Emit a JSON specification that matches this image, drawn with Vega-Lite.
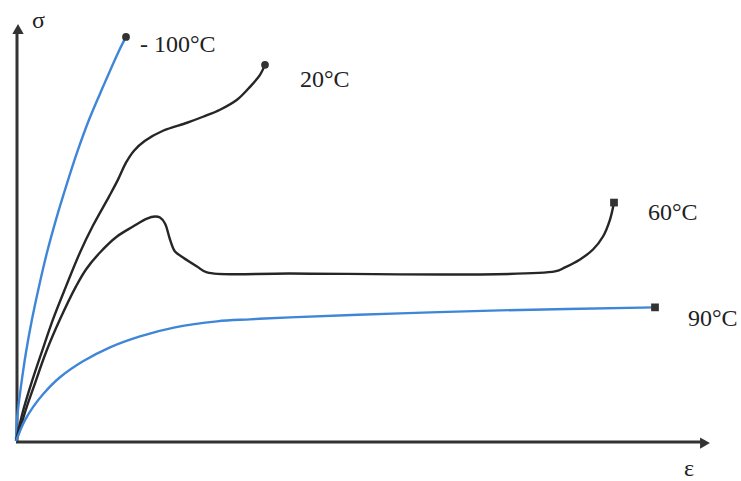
{
  "$schema": "https://vega.github.io/schema/vega-lite/v6.json",
  "width": 741,
  "height": 481,
  "padding": 0,
  "autosize": {"type": "fit", "contains": "padding"},
  "background": "white",
  "config": {"view": {"stroke": null}},
  "resolve": {"scale": {"shape": "independent"}},
  "datasets": {
    "curves": [
      {"series": "-100", "x": 0, "y": 0}, {"series": "-100", "x": 1, "y": 22}, {"series": "-100", "x": 5, "y": 55}, {"series": "-100", "x": 10, "y": 89}, {"series": "-100", "x": 16, "y": 122}, {"series": "-100", "x": 23, "y": 155}, {"series": "-100", "x": 31, "y": 189}, {"series": "-100", "x": 40, "y": 222}, {"series": "-100", "x": 50, "y": 255}, {"series": "-100", "x": 61, "y": 289}, {"series": "-100", "x": 73, "y": 322}, {"series": "-100", "x": 87, "y": 355}, {"series": "-100", "x": 102, "y": 389}, {"series": "-100", "x": 110, "y": 405},
      {"series": "20", "x": 0, "y": 0}, {"series": "20", "x": 7, "y": 30}, {"series": "20", "x": 16, "y": 60}, {"series": "20", "x": 26, "y": 90}, {"series": "20", "x": 37, "y": 122}, {"series": "20", "x": 50, "y": 155}, {"series": "20", "x": 64, "y": 189}, {"series": "20", "x": 77, "y": 216}, {"series": "20", "x": 93, "y": 245}, {"series": "20", "x": 102, "y": 262}, {"series": "20", "x": 110, "y": 279}, {"series": "20", "x": 118, "y": 291}, {"series": "20", "x": 129, "y": 301}, {"series": "20", "x": 147, "y": 311}, {"series": "20", "x": 171, "y": 319}, {"series": "20", "x": 187, "y": 325}, {"series": "20", "x": 204, "y": 332}, {"series": "20", "x": 221, "y": 342}, {"series": "20", "x": 234, "y": 355}, {"series": "20", "x": 244, "y": 367}, {"series": "20", "x": 249, "y": 377},
      {"series": "60", "x": 0, "y": 0}, {"series": "60", "x": 4, "y": 12}, {"series": "60", "x": 10, "y": 32}, {"series": "60", "x": 18, "y": 55}, {"series": "60", "x": 30, "y": 89}, {"series": "60", "x": 44, "y": 122}, {"series": "60", "x": 60, "y": 155}, {"series": "60", "x": 70, "y": 172}, {"series": "60", "x": 84, "y": 189}, {"series": "60", "x": 101, "y": 205}, {"series": "60", "x": 117, "y": 215}, {"series": "60", "x": 131, "y": 223}, {"series": "60", "x": 139, "y": 225}, {"series": "60", "x": 144, "y": 224}, {"series": "60", "x": 149, "y": 218}, {"series": "60", "x": 154, "y": 202}, {"series": "60", "x": 159, "y": 190}, {"series": "60", "x": 167, "y": 184}, {"series": "60", "x": 181, "y": 175}, {"series": "60", "x": 191, "y": 169}, {"series": "60", "x": 274, "y": 168}, {"series": "60", "x": 539, "y": 170}, {"series": "60", "x": 549, "y": 174}, {"series": "60", "x": 564, "y": 182}, {"series": "60", "x": 577, "y": 192}, {"series": "60", "x": 587, "y": 205}, {"series": "60", "x": 594, "y": 222}, {"series": "60", "x": 598, "y": 239},
      {"series": "90", "x": 0, "y": 0}, {"series": "90", "x": 4, "y": 10}, {"series": "90", "x": 9, "y": 21}, {"series": "90", "x": 17, "y": 34}, {"series": "90", "x": 27, "y": 47}, {"series": "90", "x": 44, "y": 64}, {"series": "90", "x": 67, "y": 80}, {"series": "90", "x": 94, "y": 94}, {"series": "90", "x": 124, "y": 105}, {"series": "90", "x": 159, "y": 114}, {"series": "90", "x": 201, "y": 120}, {"series": "90", "x": 234, "y": 122}, {"series": "90", "x": 274, "y": 124}, {"series": "90", "x": 384, "y": 128}, {"series": "90", "x": 484, "y": 131}, {"series": "90", "x": 639, "y": 134}
    ],
    "ends": [
      {"series": "-100", "x": 110, "y": 405, "shape": "circle"},
      {"series": "20", "x": 249, "y": 377, "shape": "circle"},
      {"series": "60", "x": 598, "y": 239, "shape": "square"},
      {"series": "90", "x": 639, "y": 134, "shape": "square"}
    ],
    "axes": [
      {"x": 1, "y": 0, "x2": 1, "y2": 410},
      {"x": 0, "y": -1, "x2": 686, "y2": -1}
    ],
    "arrows": [
      {"x": 2, "y": 413, "shape": "triangle-up"},
      {"x": 689, "y": -2, "shape": "triangle-right"}
    ],
    "labels": [
      {"text": "- 100°C", "x": 124, "y": 397},
      {"text": "20°C", "x": 284, "y": 362},
      {"text": "60°C", "x": 632, "y": 229},
      {"text": "90°C", "x": 672, "y": 122},
      {"text": "σ", "x": 16, "y": 421},
      {"text": "ε", "x": 668, "y": -28}
    ]
  },
  "layer": [
    {
      "data": {"name": "axes"},
      "mark": {"type": "rule", "color": "#333333", "strokeWidth": 3},
      "encoding": {
        "x": {"field": "x", "type": "quantitative", "scale": {"domain": [-16, 725], "nice": false, "zero": false}, "axis": null},
        "y": {"field": "y", "type": "quantitative", "scale": {"domain": [-39, 442], "nice": false, "zero": false}, "axis": null},
        "x2": {"field": "x2"},
        "y2": {"field": "y2"}
      }
    },
    {
      "data": {"name": "arrows"},
      "mark": {"type": "point", "filled": true, "color": "#333333", "size": 130, "opacity": 1},
      "encoding": {
        "x": {"field": "x", "type": "quantitative", "scale": {"domain": [-16, 725], "nice": false, "zero": false}, "axis": null},
        "y": {"field": "y", "type": "quantitative", "scale": {"domain": [-39, 442], "nice": false, "zero": false}, "axis": null},
        "shape": {"field": "shape", "type": "nominal", "scale": {"domain": ["triangle-up", "triangle-right"], "range": ["triangle-up", "triangle-right"]}, "legend": null}
      }
    },
    {
      "data": {"name": "curves"},
      "mark": {"type": "line", "interpolate": "catmull-rom", "strokeWidth": 2.4},
      "encoding": {
        "x": {"field": "x", "type": "quantitative", "scale": {"domain": [-16, 725], "nice": false, "zero": false}, "axis": null},
        "y": {"field": "y", "type": "quantitative", "scale": {"domain": [-39, 442], "nice": false, "zero": false}, "axis": null},
        "color": {"field": "series", "type": "nominal", "scale": {"domain": ["-100", "20", "60", "90"], "range": ["#3f86d8", "#262626", "#262626", "#3f86d8"]}, "legend": null},
        "detail": {"field": "series"}
      }
    },
    {
      "data": {"name": "ends"},
      "mark": {"type": "point", "filled": true, "color": "#333333", "size": 60, "opacity": 1},
      "encoding": {
        "x": {"field": "x", "type": "quantitative", "scale": {"domain": [-16, 725], "nice": false, "zero": false}, "axis": null},
        "y": {"field": "y", "type": "quantitative", "scale": {"domain": [-39, 442], "nice": false, "zero": false}, "axis": null},
        "shape": {"field": "shape", "type": "nominal", "scale": {"domain": ["circle", "square"], "range": ["circle", "square"]}, "legend": null}
      }
    },
    {
      "data": {"name": "labels"},
      "mark": {"type": "text", "font": "Liberation Serif", "fontSize": 24, "align": "left", "baseline": "middle", "color": "#222222"},
      "encoding": {
        "x": {"field": "x", "type": "quantitative", "scale": {"domain": [-16, 725], "nice": false, "zero": false}, "axis": null},
        "y": {"field": "y", "type": "quantitative", "scale": {"domain": [-39, 442], "nice": false, "zero": false}, "axis": null},
        "text": {"field": "text"}
      }
    }
  ]
}
